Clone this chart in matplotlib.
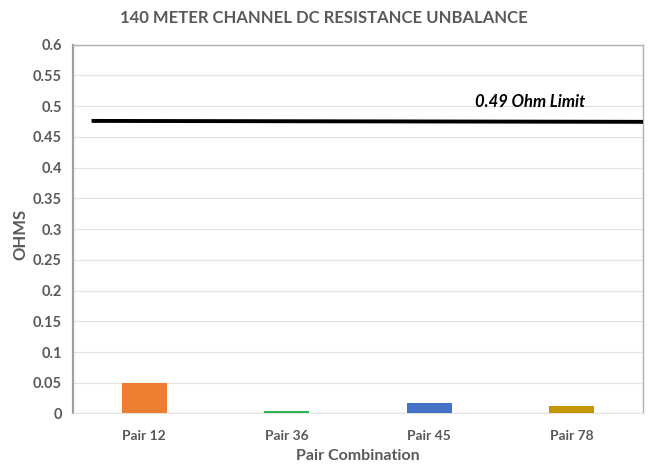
import matplotlib
matplotlib.use("Agg")
import matplotlib.pyplot as plt

categories = ["Pair 12", "Pair 36", "Pair 45", "Pair 78"]
values = [0.050, 0.004, 0.017, 0.012]
bar_colors = ["#ED7D31", "#2DB34F", "#4472C4", "#C49600"]
limit_x = [-0.37, 3.5]
limit_y = [0.476, 0.4745]
limit_label = "0.49 Ohm Limit"
yticks = [0, 0.05, 0.1, 0.15, 0.2, 0.25, 0.3, 0.35, 0.4, 0.45, 0.5, 0.55, 0.6]
ytick_labels = ["0", "0.05", "0.1", "0.15", "0.2", "0.25", "0.3", "0.35", "0.4", "0.45", "0.5", "0.55", "0.6"]

plt.rcParams['font.family'] = ['Lato', 'DejaVu Sans']
txt = "#595959"

fig = plt.figure(figsize=(6.48, 4.68), dpi=100)
ax = fig.add_axes([0.1127, 0.1165, 0.8796, 0.788])

x = list(range(len(categories)))
ax.bar(x, values, width=0.316, color=bar_colors, zorder=3)
ax.plot(limit_x, limit_y, color="black", lw=2.8, zorder=4, solid_capstyle="butt")
ax.text(2.71, 0.506, limit_label, ha="center", va="center", fontsize=12,
        fontweight="bold", fontstyle="italic", color="black")

ax.set_xlim(-0.5, 3.5)
ax.set_ylim(0, 0.6)
ax.set_yticks(yticks)
ax.set_yticklabels(ytick_labels)
ax.set_xticks(x)
ax.set_xticklabels(categories)
ax.grid(axis="y", color="#e3e3e3", lw=0.9, zorder=0)
ax.tick_params(axis="y", length=0, colors=txt, labelsize=10.5, pad=8)
ax.tick_params(axis="x", length=0, colors=txt, labelsize=10, pad=12)
for lab in ax.get_xticklabels() + ax.get_yticklabels():
    lab.set_fontweight("bold")
for s in ["top", "right", "left"]:
    ax.spines[s].set_color("#b0b0b0")
    ax.spines[s].set_linewidth(1.0)
ax.spines["left"].set_linewidth(1.6)
ax.spines["left"].set_color("#a0a0a0")
ax.spines["bottom"].set_color("#e3e3e3")

ax.set_ylabel("OHMS", fontsize=12, fontweight="bold", color=txt)
ax.yaxis.set_label_coords(-0.093, 0.485)
ax.yaxis.label.set_va("center")
ax.set_xlabel("Pair Combination", fontsize=11.5, fontweight="bold", color=txt, labelpad=5)
fig.text(0.5, 0.962, "140 METER CHANNEL DC RESISTANCE UNBALANCE", ha="center", va="center",
         fontsize=12, fontweight="bold", color=txt)

fig.savefig("out.png", dpi=100)
